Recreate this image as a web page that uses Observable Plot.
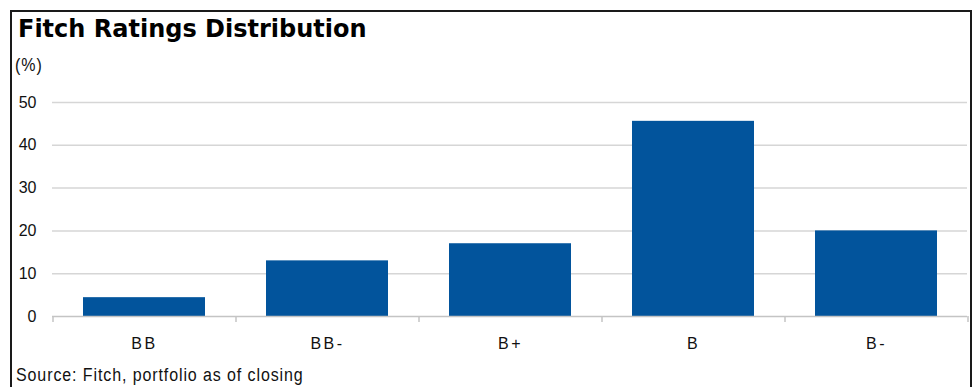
<!DOCTYPE html>
<html>
<head>
<meta charset="utf-8">
<script src="https://cdn.jsdelivr.net/npm/d3@7"></script>
<script src="https://cdn.jsdelivr.net/npm/@observablehq/plot@0.6"></script>
<style>
  html, body { margin: 0; padding: 0; background: #fff; width: 973px; height: 387px; overflow: hidden; }
  #chart { position: absolute; left: 0; top: 0; }
  .title { position: absolute; left: 18px; top: 17px; font: bold 24px "DejaVu Sans", Verdana, sans-serif; line-height: 24px; color: #000; white-space: nowrap; }
  .unit, .source { position: absolute; font: 16px "Liberation Sans", Arial, sans-serif; line-height: 16px; color: #111; white-space: nowrap; transform: scaleY(1.15); transform-origin: top left; }
  .unit { left: 15px; top: 55.5px; letter-spacing: 1px; }
  .source { left: 16px; top: 365.5px; letter-spacing: 0.9px; }
  .frame { position: absolute; left: 10px; top: 10px; width: 958px; height: 400px; border: 2px solid #1a1a1a; border-bottom: none; }
  #chart g[aria-label="x-axis tick label"] text { letter-spacing: 2.5px; }
</style>
</head>
<body>
<div id="chart"></div>
<div class="title">Fitch Ratings Distribution</div>
<div class="unit">(%)</div>
<div class="source">Source: Fitch, portfolio as of closing</div>
<div class="frame"></div>
<script>
const ratings = ["BB", "BB-", "B+", "B", "B-"];
const shares = [4.4, 13.0, 17.0, 45.6, 20.0];
const yTicks = [0, 10, 20, 30, 40, 50];

const data = ratings.map((r, i) => ({rating: r, pct: shares[i]}));

const W = 973, H = 387;
const mL = 52, mR = 6, mT = 102, mB = 71;
const step = (W - mL - mR) / ratings.length;

const plot = Plot.plot({
  width: W,
  height: H,
  marginLeft: mL,
  marginRight: mR,
  marginTop: mT,
  marginBottom: mB,
  style: {background: "transparent", fontFamily: "'Liberation Sans', Arial, sans-serif", color: "#111"},
  x: {domain: ratings, paddingInner: 1/3, paddingOuter: 1/6},
  y: {domain: [0, 50]},
  marks: [
    Plot.ruleY(yTicks.filter(d => d > 0), {stroke: "#d6d6d6", strokeWidth: 1.5}),
    Plot.barY(data, {x: "rating", y: "pct", fill: "#02549c"}),
    Plot.ruleY([0], {stroke: "#c4c4c4", strokeWidth: 1.5}),
    Plot.ruleX(ratings, {x: d => d, dx: -step / 2, y1: 0, y2: -1.4, stroke: "#c4c4c4", strokeWidth: 1.5}),
    Plot.ruleX(ratings.slice(-1), {x: d => d, dx: step / 2, y1: 0, y2: -1.4, stroke: "#c4c4c4", strokeWidth: 1.5}),
    Plot.axisY({ticks: yTicks, tickSize: 0, tickPadding: 16, fontSize: 16, label: null}),
    Plot.axisX({tickSize: 0, tickPadding: 21, fontSize: 16, label: null})
  ]
});
document.getElementById("chart").appendChild(plot);
</script>
</body>
</html>
